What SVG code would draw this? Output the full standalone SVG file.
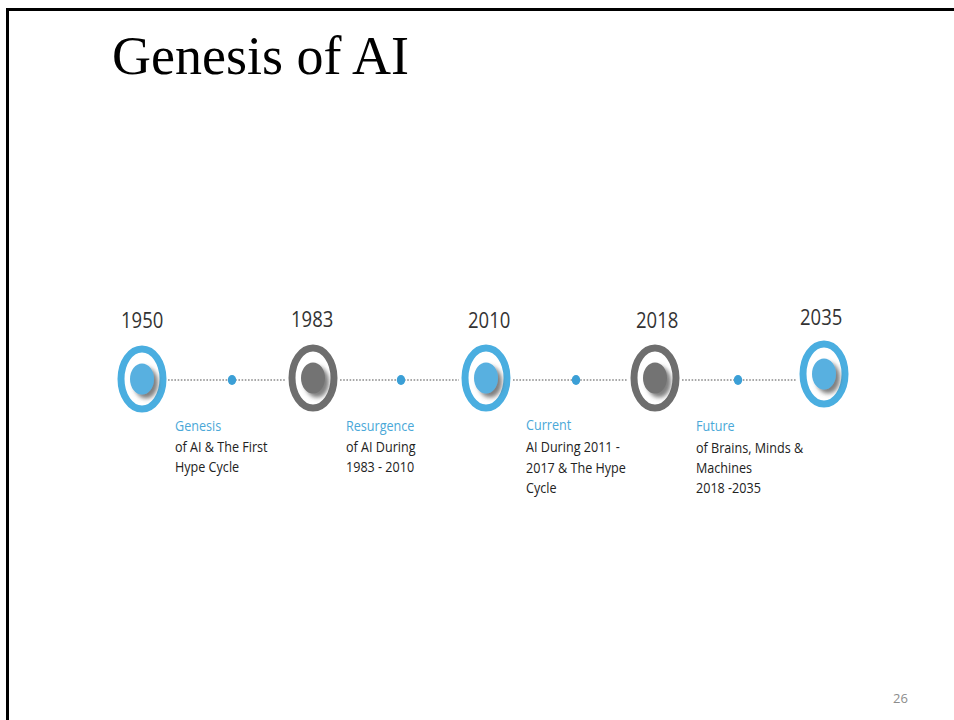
<svg xmlns="http://www.w3.org/2000/svg" width="954" height="720" viewBox="0 0 954 720">
  <defs>
    <filter id="dotShadow" x="-50%" y="-50%" width="200%" height="200%">
      <feGaussianBlur in="SourceAlpha" stdDeviation="2.2"/>
      <feOffset dx="3.5" dy="4" result="blur"/>
      <feFlood flood-color="#555" flood-opacity="0.75"/>
      <feComposite in2="blur" operator="in" result="shadow"/>
      <feMerge>
        <feMergeNode in="shadow"/>
        <feMergeNode in="SourceGraphic"/>
      </feMerge>
    </filter>
    <filter id="soft" x="-20%" y="-20%" width="140%" height="140%">
      <feGaussianBlur stdDeviation="0.5"/>
    </filter>
  </defs>
  <style>
    .frame { fill: none; stroke: #000; stroke-width: 3; }
    .title { font-family: "Liberation Serif", "Times New Roman", serif; font-size: 54px; fill: #000; }
    .year { font-family: "Open Sans", "DejaVu Sans", sans-serif; font-size: 18.5px; fill: #333; }
    .head { font-family: "Open Sans", "DejaVu Sans", sans-serif; font-size: 12.6px; fill: #4aa8d8; }
    .body { font-family: "Open Sans", "DejaVu Sans", sans-serif; font-size: 12.6px; fill: #222; }
    .page { font-family: "Open Sans", "Liberation Sans", sans-serif; font-size: 13px; fill: #8c8c8c; }
    .ring-blue { fill: #fff; stroke: #4aaee0; stroke-width: 7; }
    .ring-gray { fill: #fff; stroke: #6e6e6e; stroke-width: 7; }
    .core-blue { fill: #58b0e0; }
    .core-gray { fill: #737373; }
    .link { stroke: #a8a8a8; stroke-width: 2.2; stroke-dasharray: 1.6 1.6; fill: none; }
    .mid { fill: #3a9fd6; }
  </style>

  <rect width="954" height="720" fill="#fff"/>
  <path class="frame" d="M7.5,720 V9.5 H954"/>

  <text class="title" x="112" y="74">Genesis of AI</text>

  <!-- dotted connectors between milestones, with midpoint markers -->
  <g id="connectors" filter="url(#soft)">
    <line class="link" x1="168" y1="380" x2="286" y2="380"/>
    <line class="link" x1="340" y1="380" x2="459" y2="380"/>
    <line class="link" x1="513" y1="380" x2="628" y2="380"/>
    <line class="link" x1="682" y1="380" x2="797" y2="380"/>
    <ellipse class="mid" cx="232" cy="380" rx="4.2" ry="5"/>
    <ellipse class="mid" cx="401" cy="380" rx="4.2" ry="5"/>
    <ellipse class="mid" cx="576" cy="380" rx="4.2" ry="5"/>
    <ellipse class="mid" cx="738" cy="380" rx="4.2" ry="5"/>
  </g>

  <!-- milestone 1950 -->
  <g id="m1950">
    <ellipse class="ring-blue" cx="142" cy="379" rx="21" ry="30"/>
    <ellipse class="core-blue" cx="142" cy="379" rx="12" ry="15.5" filter="url(#dotShadow)"/>
    <text class="year" transform="translate(121,328) scale(1,1.22)">1950</text>
    <text class="head" transform="translate(175,431) scale(1,1.18)">Genesis</text>
    <text class="body" transform="translate(175,452) scale(1,1.18)">of AI &amp; The First</text>
    <text class="body" transform="translate(175,472) scale(1,1.18)">Hype Cycle</text>
  </g>

  <!-- milestone 1983 -->
  <g id="m1983">
    <ellipse class="ring-gray" cx="313" cy="378" rx="21" ry="30"/>
    <ellipse class="core-gray" cx="313" cy="378" rx="12" ry="15.5" filter="url(#dotShadow)"/>
    <text class="year" transform="translate(291,327) scale(1,1.22)">1983</text>
    <text class="head" transform="translate(346,431) scale(1,1.18)">Resurgence</text>
    <text class="body" transform="translate(346,452) scale(1,1.18)">of AI During</text>
    <text class="body" transform="translate(346,472) scale(1,1.18)">1983 - 2010</text>
  </g>

  <!-- milestone 2010 -->
  <g id="m2010">
    <ellipse class="ring-blue" cx="486" cy="378" rx="21" ry="30"/>
    <ellipse class="core-blue" cx="486" cy="378" rx="12" ry="15.5" filter="url(#dotShadow)"/>
    <text class="year" transform="translate(468,328) scale(1,1.22)">2010</text>
    <text class="head" transform="translate(526,430) scale(1,1.18)">Current</text>
    <text class="body" transform="translate(526,452) scale(1,1.18)">AI During 2011 -</text>
    <text class="body" transform="translate(526,473) scale(1,1.18)">2017 &amp; The Hype</text>
    <text class="body" transform="translate(526,493) scale(1,1.18)">Cycle</text>
  </g>

  <!-- milestone 2018 -->
  <g id="m2018">
    <ellipse class="ring-gray" cx="655" cy="378" rx="21" ry="30"/>
    <ellipse class="core-gray" cx="655" cy="378" rx="12" ry="15.5" filter="url(#dotShadow)"/>
    <text class="year" transform="translate(636,328) scale(1,1.22)">2018</text>
    <text class="head" transform="translate(696,431) scale(1,1.18)">Future</text>
    <text class="body" transform="translate(696,453) scale(1,1.18)">of Brains, Minds &amp;</text>
    <text class="body" transform="translate(696,473) scale(1,1.18)">Machines</text>
    <text class="body" transform="translate(696,493) scale(1,1.18)">2018 -2035</text>
  </g>

  <!-- milestone 2035 -->
  <g id="m2035">
    <ellipse class="ring-blue" cx="824" cy="374" rx="21" ry="30"/>
    <ellipse class="core-blue" cx="824" cy="374" rx="12" ry="15.5" filter="url(#dotShadow)"/>
    <text class="year" transform="translate(800,325) scale(1,1.22)">2035</text>
  </g>

  <text class="page" x="893" y="703">26</text>
</svg>
